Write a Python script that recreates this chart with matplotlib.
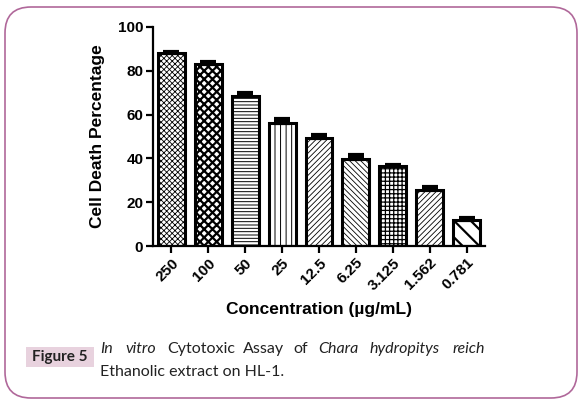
import numpy as np
import matplotlib
matplotlib.use("Agg")
import matplotlib.pyplot as plt
from matplotlib.patches import FancyBboxPatch, Rectangle

# data
conc_labels = ["250", "100", "50", "25", "12.5", "6.25", "3.125", "1.562", "0.781"]
death_pct = [88.0, 83.0, 68.5, 56.0, 49.5, 39.7, 36.5, 25.5, 12.0]
death_err = [0.8, 1.0, 1.5, 2.0, 1.3, 1.8, 0.4, 1.3, 0.8]
hatches = ["xxxxxx", "xxxx", "-----", "|||", "//////", "\\\\\\\\\\\\", "++++", "//////", "\\\\"]
hatch_lw = [0.6, 1.6, 0.7, 0.7, 0.6, 0.6, 0.9, 0.6, 1.6]

W, H = 585, 399
fig = plt.figure(figsize=(W / 100, H / 100), dpi=100)

# background layer in pixel units for frame and caption
bg = fig.add_axes([0, 0, 1, 1])
bg.set_xlim(0, W)
bg.set_ylim(H, 0)
bg.axis("off")
frame = FancyBboxPatch((5, 7), 572, 391, boxstyle="round,pad=0,rounding_size=26",
                       fc="white", ec="#b0689a", lw=1.2)
bg.add_patch(frame)
bg.add_patch(Rectangle((26, 347), 68, 20, fc="#e8d2de", ec="none"))
bg.text(60, 357, "Figure 5", ha="center", va="center", fontsize=11,
        fontweight="bold", family="Lato", color="#222222")

cap_words = [("In", 100, True), ("vitro", 125, True), ("Cytotoxic", 167, False),
             ("Assay", 243, False), ("of", 293, False), ("Chara", 318, True),
             ("hydropitys", 370, True), ("reich", 453, True)]
for w, x, it in cap_words:
    bg.text(x, 349, w, ha="left", va="center", fontsize=11.5, family="Lato",
            style="italic" if it else "normal", color="#222222")
bg.text(100, 372, "Ethanolic extract on HL-1.", ha="left", va="center",
        fontsize=11.5, family="Lato", color="#222222")

# chart
ax = fig.add_axes([153 / W, 1 - 246 / H, (485 - 153) / W, (246 - 27) / H])
ax.patch.set_alpha(0)
x = np.arange(len(conc_labels))
for i in range(len(x)):
    with plt.rc_context({"hatch.linewidth": hatch_lw[i]}):
        b = ax.bar(x[i], death_pct[i], width=0.73, color="white", edgecolor="black",
                   linewidth=2.2, hatch=hatches[i], zorder=2)
    for p in b:
        if hasattr(p, "set_hatch_linewidth"):
            p.set_hatch_linewidth(hatch_lw[i])
ax.errorbar(x, death_pct, yerr=[np.zeros(len(x)), death_err], fmt="none",
            ecolor="black", elinewidth=2.4, capsize=5.5, capthick=3, zorder=3)

ax.set_xlim(-0.5, 8.5)
ax.set_ylim(0, 100)
ax.set_yticks([0, 20, 40, 60, 80, 100])
ax.set_xticks(x)
ax.set_xticklabels(conc_labels, rotation=45, ha="right", rotation_mode="anchor")
for lab in ax.get_xticklabels() + ax.get_yticklabels():
    lab.set_fontweight("bold")
    lab.set_family("Liberation Sans")
    lab.set_fontsize(11)
ax.spines["top"].set_visible(False)
ax.spines["right"].set_visible(False)
ax.spines["left"].set_linewidth(1.6)
ax.spines["bottom"].set_linewidth(1.6)
ax.tick_params(axis="both", width=1.6, length=5, pad=2)
ax.set_ylabel("Cell Death Percentage", fontsize=12.5, fontweight="bold",
              family="Liberation Sans", labelpad=9)
ax.set_xlabel("Concentration (\u00b5g/mL)", fontsize=12.5, fontweight="bold",
              family="Liberation Sans", labelpad=7)

fig.savefig("out.png", dpi=100)
